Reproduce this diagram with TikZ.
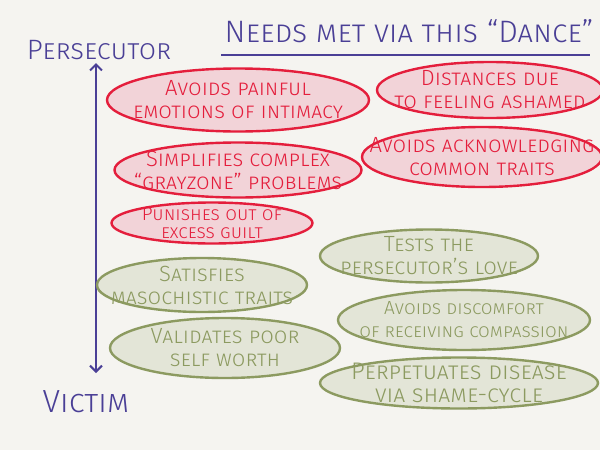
\documentclass[tikz,border=0pt]{standalone}
\usepackage{fontspec}
\setmainfont{Fira Sans}[UprightFont=* Light]
\usetikzlibrary{arrows.meta, shapes.geometric}

\definecolor{paper}{HTML}{F5F4F0}
\definecolor{ink}{HTML}{4A3F96}
\definecolor{redline}{HTML}{E41E3C}
\definecolor{redfill}{HTML}{F2D3D8}
\definecolor{greenline}{HTML}{8C9A60}
\definecolor{greenfill}{HTML}{E3E5D7}

\tikzset{
  blob/.style={ellipse, inner sep=-30pt, line width=1.2pt, align=center,
    font=\fontsize{11}{11.5}\selectfont\scshape},
  redblob/.style={blob, draw=redline, fill=redfill, text=redline},
  greenblob/.style={blob, draw=greenline, fill=greenfill, text=greenline},
  label/.style={text=ink, anchor=base}
}

\begin{document}
\begin{tikzpicture}[x=0.5pt,y=-0.5pt,>={Straight Barb[length=3pt,width=6pt]}]

% background, fixes the page size
\fill[paper] (0,0) rectangle (600,450);
\useasboundingbox (0,0) rectangle (600,450);

% ------------------------------------------------------------
% Title and axis
% ------------------------------------------------------------
\node[label, font=\fontsize{15.5}{15.5}\selectfont\scshape] (title) at (409,42)
{Needs met via this ``Dance''};
\coordinate (ulstart) at (221,55);
\coordinate (ulend) at (590,55);
\draw[ink, line width=1pt] (ulstart) -- (ulend);

\node[label, font=\fontsize{14}{14}\selectfont\scshape] (persecutor) at (99,59) {Persecutor};
\node[label, font=\fontsize{16}{16}\selectfont\scshape] (victim) at (86,412) {Victim};

\coordinate (axtop) at (96,63);
\coordinate (axbot) at (96,373);
\draw[ink, line width=1pt, <->] (axtop) -- (axbot);

% ------------------------------------------------------------
% Persecutor side (red)
% ------------------------------------------------------------
\node[redblob, minimum width=131pt, minimum height=31.5pt] (painful) at (238,100)
{Avoids painful\\emotions of intimacy};
\node[redblob, minimum width=113pt, minimum height=28pt] (ashamed) at (490,90)
{Distances due\\to feeling ashamed};
\node[redblob, minimum width=120pt, minimum height=30pt] (traits) at (482,157)
{Avoids acknowledging\\common traits};
\node[redblob, minimum width=123.5pt, minimum height=27.5pt] (grayzone) at (238,170)
{Simplifies complex\\``grayzone'' problems};
\node[redblob, minimum width=100.5pt, minimum height=20.5pt,
  font=\fontsize{9.5}{9}\selectfont\scshape] (guilt) at (212,223)
{Punishes out of\\excess guilt};

% ------------------------------------------------------------
% Victim side (green)
% ------------------------------------------------------------
\node[greenblob, minimum width=105pt, minimum height=27pt] (masochistic) at (202,285)
{Satisfies\\masochistic traits};
\node[greenblob, minimum width=115pt, minimum height=30pt] (worth) at (225,348)
{Validates poor\\self worth};
\node[greenblob, minimum width=109pt, minimum height=26.5pt] (love) at (429,256)
{Tests the\\persecutor's love};
\node[greenblob, minimum width=126pt, minimum height=30pt,
  font=\fontsize{9.5}{11.5}\selectfont\scshape] (compassion) at (464,320)
{Avoids discomfort\\of receiving compassion};
\node[greenblob, minimum width=139pt, minimum height=25.5pt,
  font=\fontsize{12}{11.5}\selectfont\scshape] (cycle) at (459,383)
{Perpetuates disease\\via shame-cycle};

\end{tikzpicture}
\end{document}
